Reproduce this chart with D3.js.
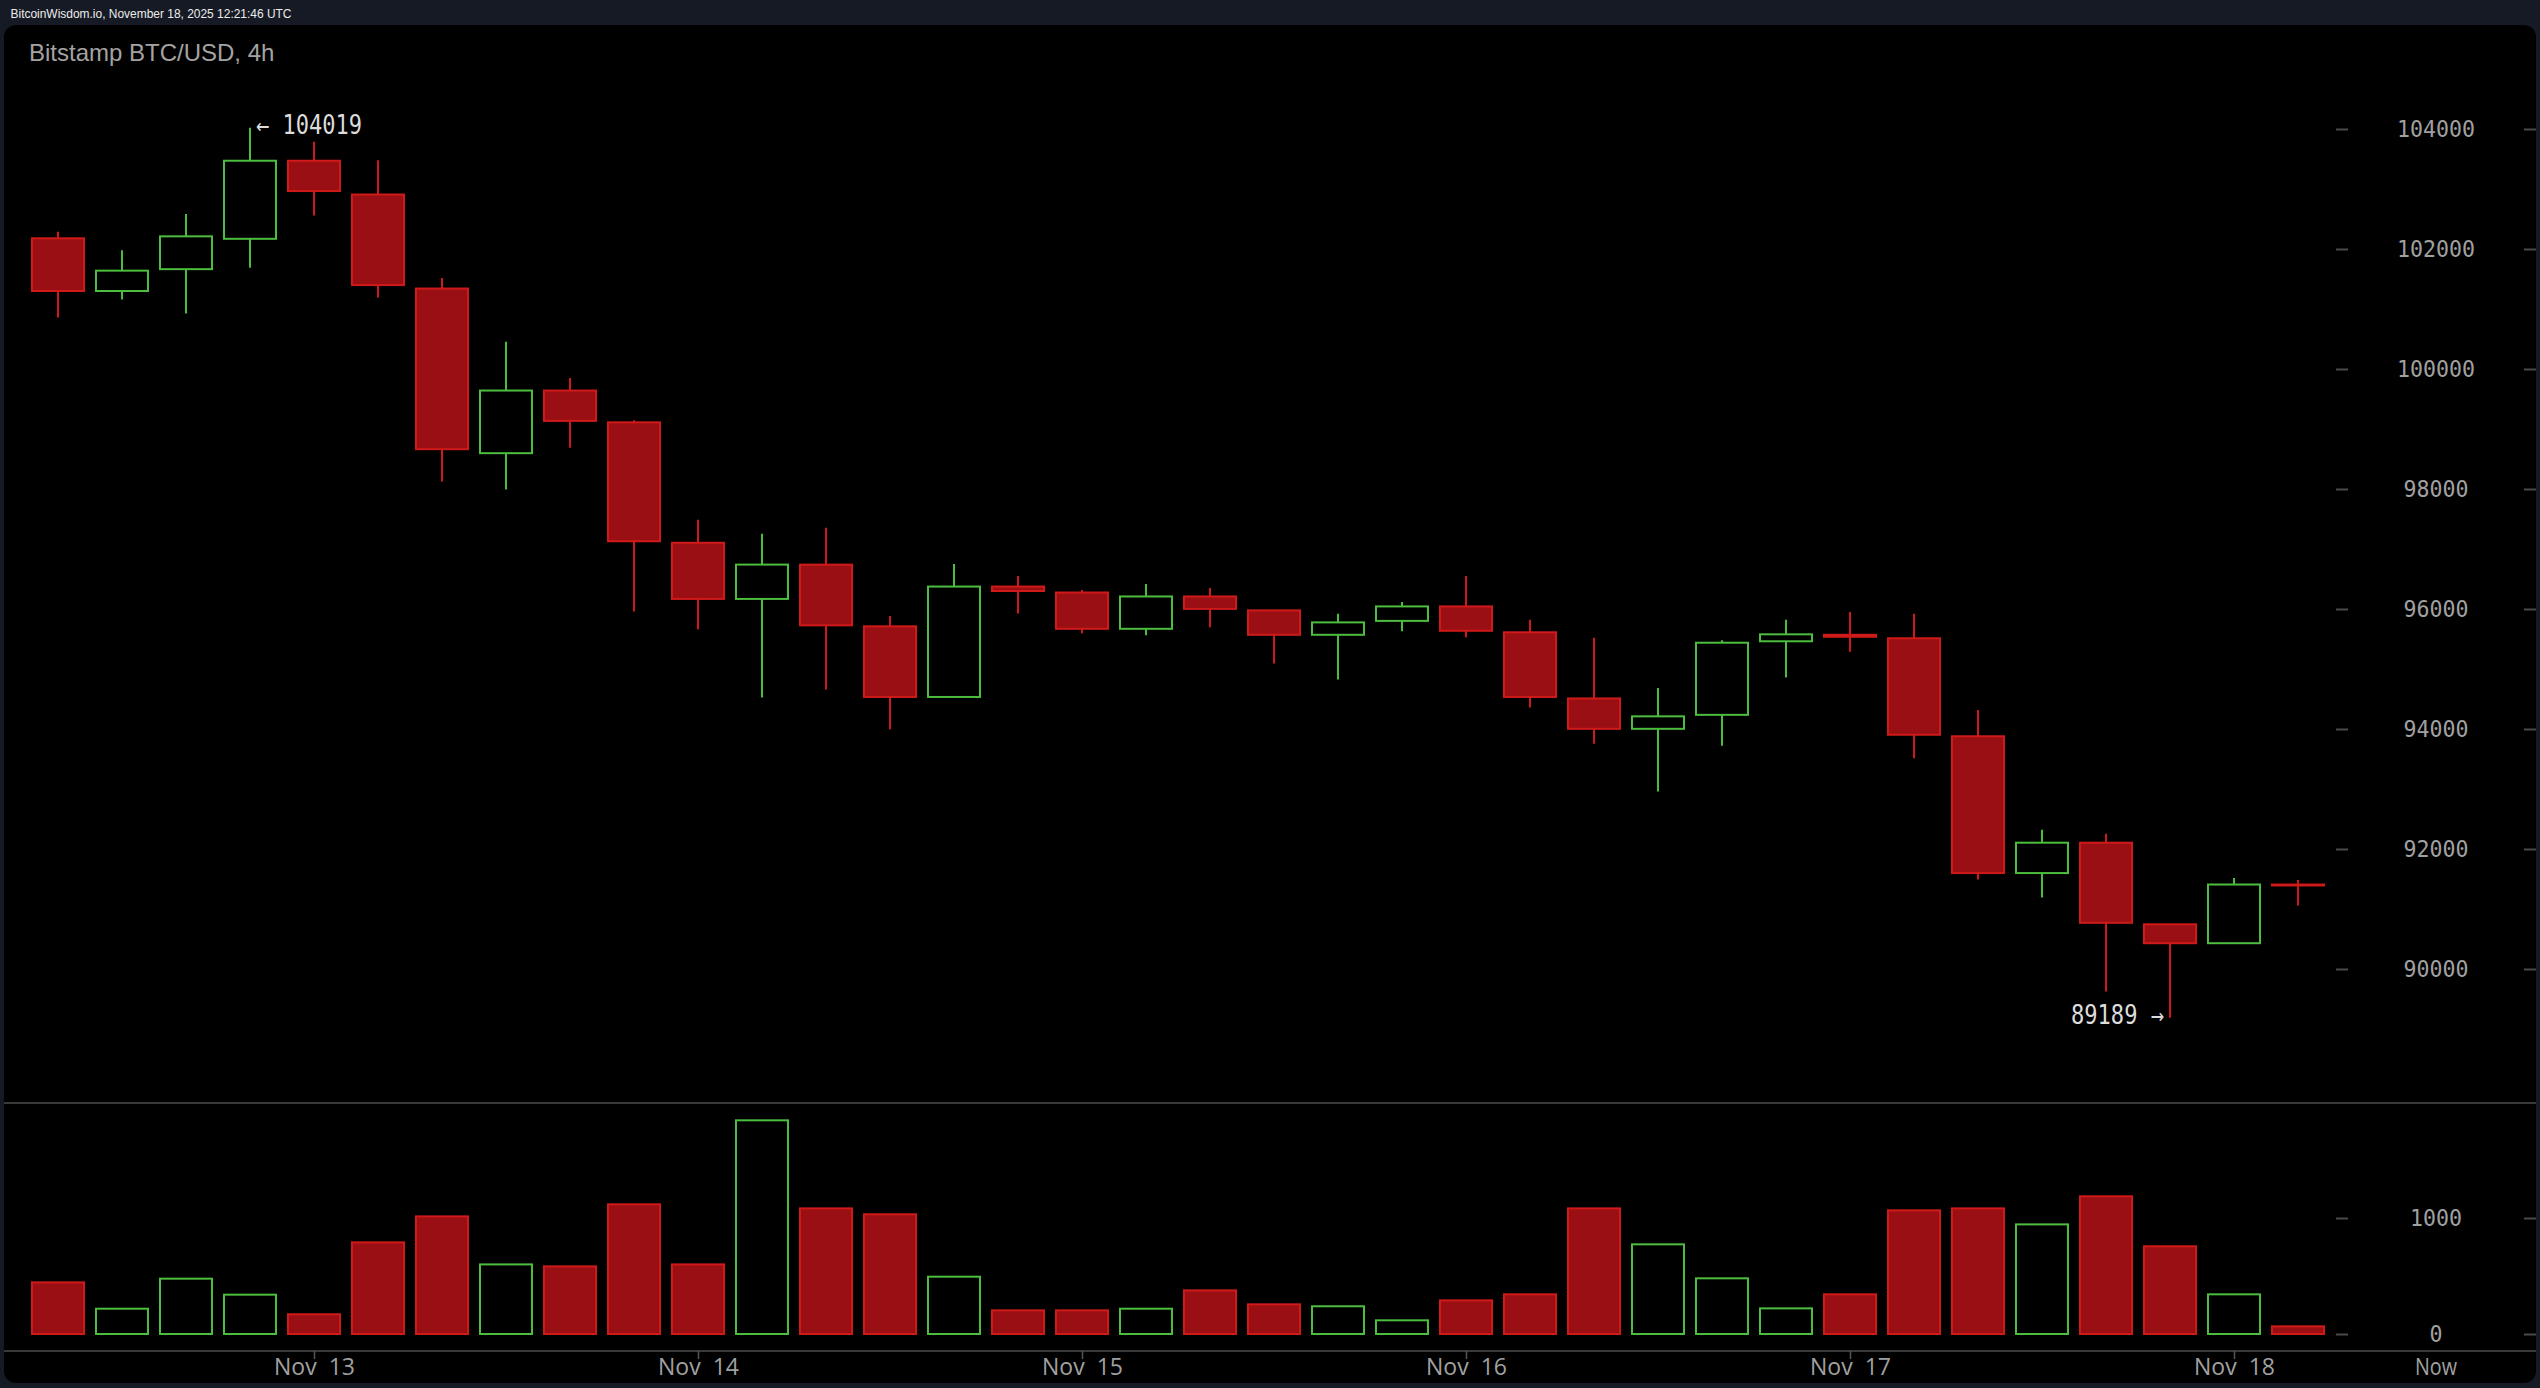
<!DOCTYPE html>
<html><head><meta charset="utf-8">
<script src="https://cdn.jsdelivr.net/npm/d3@7"></script>
<style>
html,body{margin:0;padding:0;background:#161a24;overflow:hidden}
svg{display:block}
</style></head><body>
<svg id="chart" width="2540" height="1388"></svg>
<script>
// ---- data (4h candles, Bitstamp BTC/USD) ----
const candleTimes = [
  "2025-11-12T08:00Z","2025-11-12T12:00Z","2025-11-12T16:00Z","2025-11-12T20:00Z",
  "2025-11-13T00:00Z","2025-11-13T04:00Z","2025-11-13T08:00Z","2025-11-13T12:00Z","2025-11-13T16:00Z","2025-11-13T20:00Z",
  "2025-11-14T00:00Z","2025-11-14T04:00Z","2025-11-14T08:00Z","2025-11-14T12:00Z","2025-11-14T16:00Z","2025-11-14T20:00Z",
  "2025-11-15T00:00Z","2025-11-15T04:00Z","2025-11-15T08:00Z","2025-11-15T12:00Z","2025-11-15T16:00Z","2025-11-15T20:00Z",
  "2025-11-16T00:00Z","2025-11-16T04:00Z","2025-11-16T08:00Z","2025-11-16T12:00Z","2025-11-16T16:00Z","2025-11-16T20:00Z",
  "2025-11-17T00:00Z","2025-11-17T04:00Z","2025-11-17T08:00Z","2025-11-17T12:00Z","2025-11-17T16:00Z","2025-11-17T20:00Z",
  "2025-11-18T00:00Z","2025-11-18T04:00Z"
];
const opens  = [102178,101300,101664,102170,103471,102908,101341,98597,99641,99111,97104,96168,96739,95711,94534,96374,96275,95670,96209,95977,95570,95802,96043,95612,94509,94003,94236,95462,95570,95512,93879,91599,92105,90745,90430,91408];
const highs  = [102286,101979,102584,104019,103787,103480,101515,100454,99849,99144,97486,97254,97353,95885,96748,96549,96317,96416,96350,95977,95919,96118,96549,95819,95521,94683,95479,95819,95952,95919,94318,92320,92254,90745,91516,91483];
const lows   = [100860,101158,100926,101689,102560,101192,98124,97991,98688,95960,95662,94526,94658,93995,94534,95927,95595,95562,95695,95090,94824,95628,95529,94360,93755,92959,93722,94857,95289,93514,91491,91193,89626,89189,90430,91060];
const closes = [101300,101639,102211,103471,102966,101399,98663,99641,99135,97129,96168,96740,95728,94534,96374,96300,95670,96209,96002,95570,95777,96043,95637,94534,94003,94211,95438,95578,95537,93904,91599,92105,90770,90430,91408,91392];
const volumes= [445,218,477,339,170,790,1014,600,583,1118,600,1842,1083,1032,494,204,204,218,376,256,239,118,290,342,1083,773,480,221,342,1066,1083,945,1187,756,342,66];

const dayTicks = ["2025-11-13T00:00Z","2025-11-14T00:00Z","2025-11-15T00:00Z","2025-11-16T00:00Z","2025-11-17T00:00Z","2025-11-18T00:00Z"];
const dayLabels = ["Nov 13","Nov 14","Nov 15","Nov 16","Nov 17","Nov 18"];
const priceTicks = [90000,92000,94000,96000,98000,100000,102000,104000];
const volumeTicks = [0,1000];
const headerText = "BitcoinWisdom.io, November 18, 2025 12:21:46 UTC";
const titleText = "Bitstamp BTC/USD, 4h";
const highNote = {index: 3, value: 104019};
const lowNote = {index: 33, value: 89189};

// ---- styles ----
const GREEN = "#4cbd3e", RED_STROKE = "#d01a1a", RED_FILL = "#9a0f13";
const AXIS_TXT = "#a0a0a0", GRID = "#3a3a3a";

const svg = d3.select("#chart");
const data = candleTimes.map((t,i)=>({t:new Date(t),o:opens[i],h:highs[i],l:lows[i],c:closes[i],v:volumes[i]}));

const x = d3.scaleUtc().domain([new Date(candleTimes[0]), new Date(candleTimes[candleTimes.length-1])]).range([58, 2298]);
const y = d3.scaleLinear().domain([90000,104000]).range([969,129]);
const yv = d3.scaleLinear().domain([0,1000]).range([1334,1218]);
const BW = 52;

// header + panel
svg.append("text").attr("x",10.5).attr("y",18.3).attr("fill","#ececec")
  .attr("font-family","'Liberation Sans',Arial,sans-serif").attr("font-size",12)
  .attr("textLength",281).attr("lengthAdjust","spacingAndGlyphs").text(headerText);
svg.append("rect").attr("x",4).attr("y",25).attr("width",2532).attr("height",1358).attr("rx",12).attr("fill","#000");

svg.append("text").attr("x",29).attr("y",60.5).attr("fill","#a3a3a3")
  .attr("font-family","'Liberation Sans',Arial,sans-serif").attr("font-size",24).text(titleText);

// separator + bottom axis line
svg.append("line").attr("x1",4).attr("x2",2536).attr("y1",1103).attr("y2",1103).attr("stroke",GRID).attr("stroke-width",2);
svg.append("line").attr("x1",4).attr("x2",2536).attr("y1",1351).attr("y2",1351).attr("stroke",GRID).attr("stroke-width",2);

// price y ticks
function yTicks(scale, vals, fmt){
  const gL = svg.append("g").attr("transform","translate(2348,0)")
    .call(d3.axisLeft(scale).tickValues(vals).tickSize(12).tickFormat(""));
  const gR = svg.append("g").attr("transform","translate(2524,0)")
    .call(d3.axisRight(scale).tickValues(vals).tickSize(12).tickFormat(""));
  [gL,gR].forEach(g=>{g.select(".domain").remove(); g.selectAll("line").attr("stroke","#4a4a4a").attr("stroke-width",2);});
  svg.append("g").selectAll("text").data(vals).join("text")
    .attr("x",2436).attr("y",d=>scale(d)).attr("dy","0.36em")
    .attr("text-anchor","middle").attr("fill",AXIS_TXT)
    .attr("font-family","'DejaVu Sans Mono',monospace").attr("font-size",23)
    .attr("textLength",d=>String(d).length*13).attr("lengthAdjust","spacingAndGlyphs")
    .text(d=>String(d));
}
yTicks(y, priceTicks);
yTicks(yv, volumeTicks);

// x axis
const gx = svg.append("g").attr("transform","translate(0,1351)")
  .call(d3.axisBottom(x).tickValues(dayTicks.map(d=>new Date(d))).tickSize(8).tickFormat((d,i)=>dayLabels[i]));
gx.select(".domain").remove();
gx.selectAll("line").attr("stroke","#555").attr("stroke-width",1.5);
gx.selectAll("text").attr("fill",AXIS_TXT).attr("font-family","'Open Sans',sans-serif").attr("font-size",23)
  .attr("y",24).attr("dy","0em").style("white-space","pre").text((d,i)=>dayLabels[i].replace(" ","  "));
svg.append("text").attr("x",2436).attr("y",1375).attr("text-anchor","middle").attr("fill",AXIS_TXT)
  .attr("font-family","'Open Sans',sans-serif").attr("font-size",23)
  .attr("textLength",42).attr("lengthAdjust","spacingAndGlyphs").text("Now");

// candles
const up = d => d.c >= d.o;
const cg = svg.append("g");
cg.selectAll("line.wick").data(data).join("line").attr("class","wick")
  .attr("x1",d=>Math.round(x(d.t))).attr("x2",d=>Math.round(x(d.t)))
  .attr("y1",d=>y(d.h)).attr("y2",d=>y(d.l))
  .attr("stroke",d=>up(d)?GREEN:RED_STROKE).attr("stroke-width",2);
cg.selectAll("rect.body").data(data).join("rect").attr("class","body")
  .attr("x",d=>Math.round(x(d.t))-BW/2).attr("width",BW)
  .attr("y",d=>y(Math.max(d.o,d.c))).attr("height",d=>Math.max(0.5,Math.abs(y(d.o)-y(d.c))))
  .attr("fill",d=>up(d)?"#000":RED_FILL).attr("stroke",d=>up(d)?GREEN:RED_STROKE).attr("stroke-width",2);

// volume
svg.append("g").selectAll("rect").data(data).join("rect")
  .attr("x",d=>Math.round(x(d.t))-BW/2).attr("width",BW)
  .attr("y",d=>yv(d.v)).attr("height",d=>yv(0)-yv(d.v))
  .attr("fill",d=>up(d)?"#000":RED_FILL).attr("stroke",d=>up(d)?GREEN:RED_STROKE).attr("stroke-width",2);

// high / low annotations
const noteFont = "'DejaVu Sans Mono',monospace";
svg.append("text").attr("x",x(data[highNote.index].t)+6).attr("y",y(highNote.value)+6)
  .attr("fill","#dcdcdc").attr("font-family",noteFont).attr("font-size",26)
  .attr("textLength",106).attr("lengthAdjust","spacingAndGlyphs").text("\u2190 " + highNote.value);
svg.append("text").attr("x",x(data[lowNote.index].t)-6).attr("y",y(lowNote.value)+6)
  .attr("text-anchor","end")
  .attr("fill","#dcdcdc").attr("font-family",noteFont).attr("font-size",26)
  .attr("textLength",93).attr("lengthAdjust","spacingAndGlyphs").text(lowNote.value + " \u2192");
</script>
</body></html>
